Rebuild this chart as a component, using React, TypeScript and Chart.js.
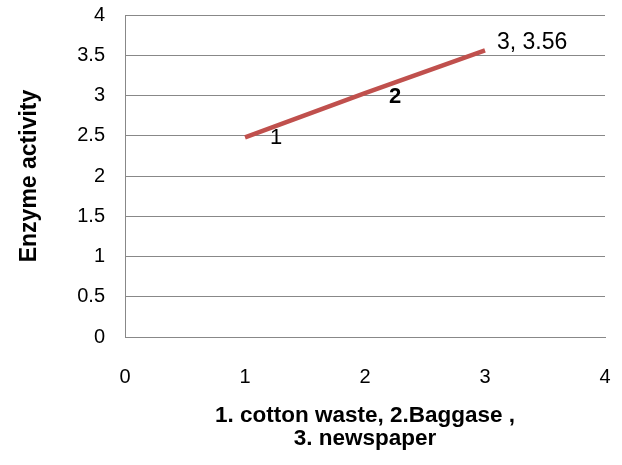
import React, { useEffect, useRef } from "react";
import { Chart, registerables } from "chart.js";

Chart.register(...registerables);

const xValues = [1, 2, 3];
const yValues = [2.48, 3.03, 3.56];
const pointLabels = ["1", "2", "3, 3.56"];
const xTitle = ["1. cotton waste, 2.Baggase ,", "3. newspaper"];
const yTitle = "Enzyme activity";

const FONT = "'Liberation Sans', Arial, sans-serif";

const labelPlugin = {
  id: "pointLabels",
  afterDatasetsDraw(chart: any) {
    const ctx = chart.ctx;
    const meta = chart.getDatasetMeta(0);
    ctx.save();
    ctx.fillStyle = "#000";
    ctx.textBaseline = "middle";
    meta.data.forEach((pt: any, i: number) => {
      const txt = pointLabels[i];
      if (i === pointLabels.length - 1) {
        ctx.font = `23px ${FONT}`;
        ctx.textAlign = "left";
        ctx.fillText(txt, pt.x + 12, pt.y - 8);
      } else if (i === 0) {
        ctx.font = `22px ${FONT}`;
        ctx.textAlign = "center";
        ctx.fillText(txt, pt.x + 31, pt.y + 1);
      } else {
        ctx.font = `bold 22px ${FONT}`;
        ctx.textAlign = "center";
        ctx.fillText(txt, pt.x + 30, pt.y + 4);
      }
    });
    ctx.restore();
  },
};

export default function App() {
  const ref = useRef<HTMLCanvasElement>(null);
  useEffect(() => {
    document.body.style.margin = "0";
    const chart = new Chart(ref.current!, {
      type: "scatter",
      data: {
        datasets: [
          {
            data: xValues.map((x, i) => ({ x, y: yValues[i] })),
            showLine: true,
            borderColor: "#C0504D",
            borderWidth: 4.5,
            pointRadius: 0,
            tension: 0,
          },
        ],
      },
      options: {
        animation: false,
        responsive: false,
        layout: { padding: { left: 10, top: 15, right: 17, bottom: 0 } },
        plugins: { legend: { display: false }, tooltip: { enabled: false } },
        scales: {
          x: {
            type: "linear",
            min: 0,
            max: 4,
            ticks: {
              stepSize: 1,
              padding: 28,
              color: "#000",
              font: { family: FONT, size: 20 },
              callback: (v: any) => String(v),
            },
            grid: { display: false, drawTicks: false },
            border: { color: "#888", width: 1 },
            title: {
              display: true,
              text: xTitle,
              color: "#000",
              font: { family: FONT, size: 22.5, weight: "bold", lineHeight: 1.05 },
              padding: { top: 0, bottom: 14 },
            },
            afterFit(scale: any) {
              scale.height = 128;
              scale.paddingLeft = 0;
              scale.paddingRight = 0;
            },
          },
          y: {
            min: 0,
            max: 4,
            ticks: {
              stepSize: 0.5,
              padding: 20,
              color: "#000",
              font: { family: FONT, size: 20 },
              callback: (v: any) => String(v),
            },
            grid: { color: "#888", drawTicks: false },
            border: { color: "#888", width: 1 },
            title: {
              display: true,
              text: yTitle,
              color: "#000",
              font: { family: FONT, size: 23, weight: "bold", lineHeight: 1.2 },
              padding: { top: 6, bottom: 0 },
            },
            afterFit(scale: any) {
              scale.width = 115;
              scale.paddingTop = 0;
              scale.paddingBottom = 0;
            },
          },
        },
      },
      plugins: [labelPlugin],
    });
    return () => chart.destroy();
  }, []);
  return (
    <div style={{ width: 622, height: 465 }}>
      <canvas ref={ref} width={622} height={465} />
    </div>
  );
}
